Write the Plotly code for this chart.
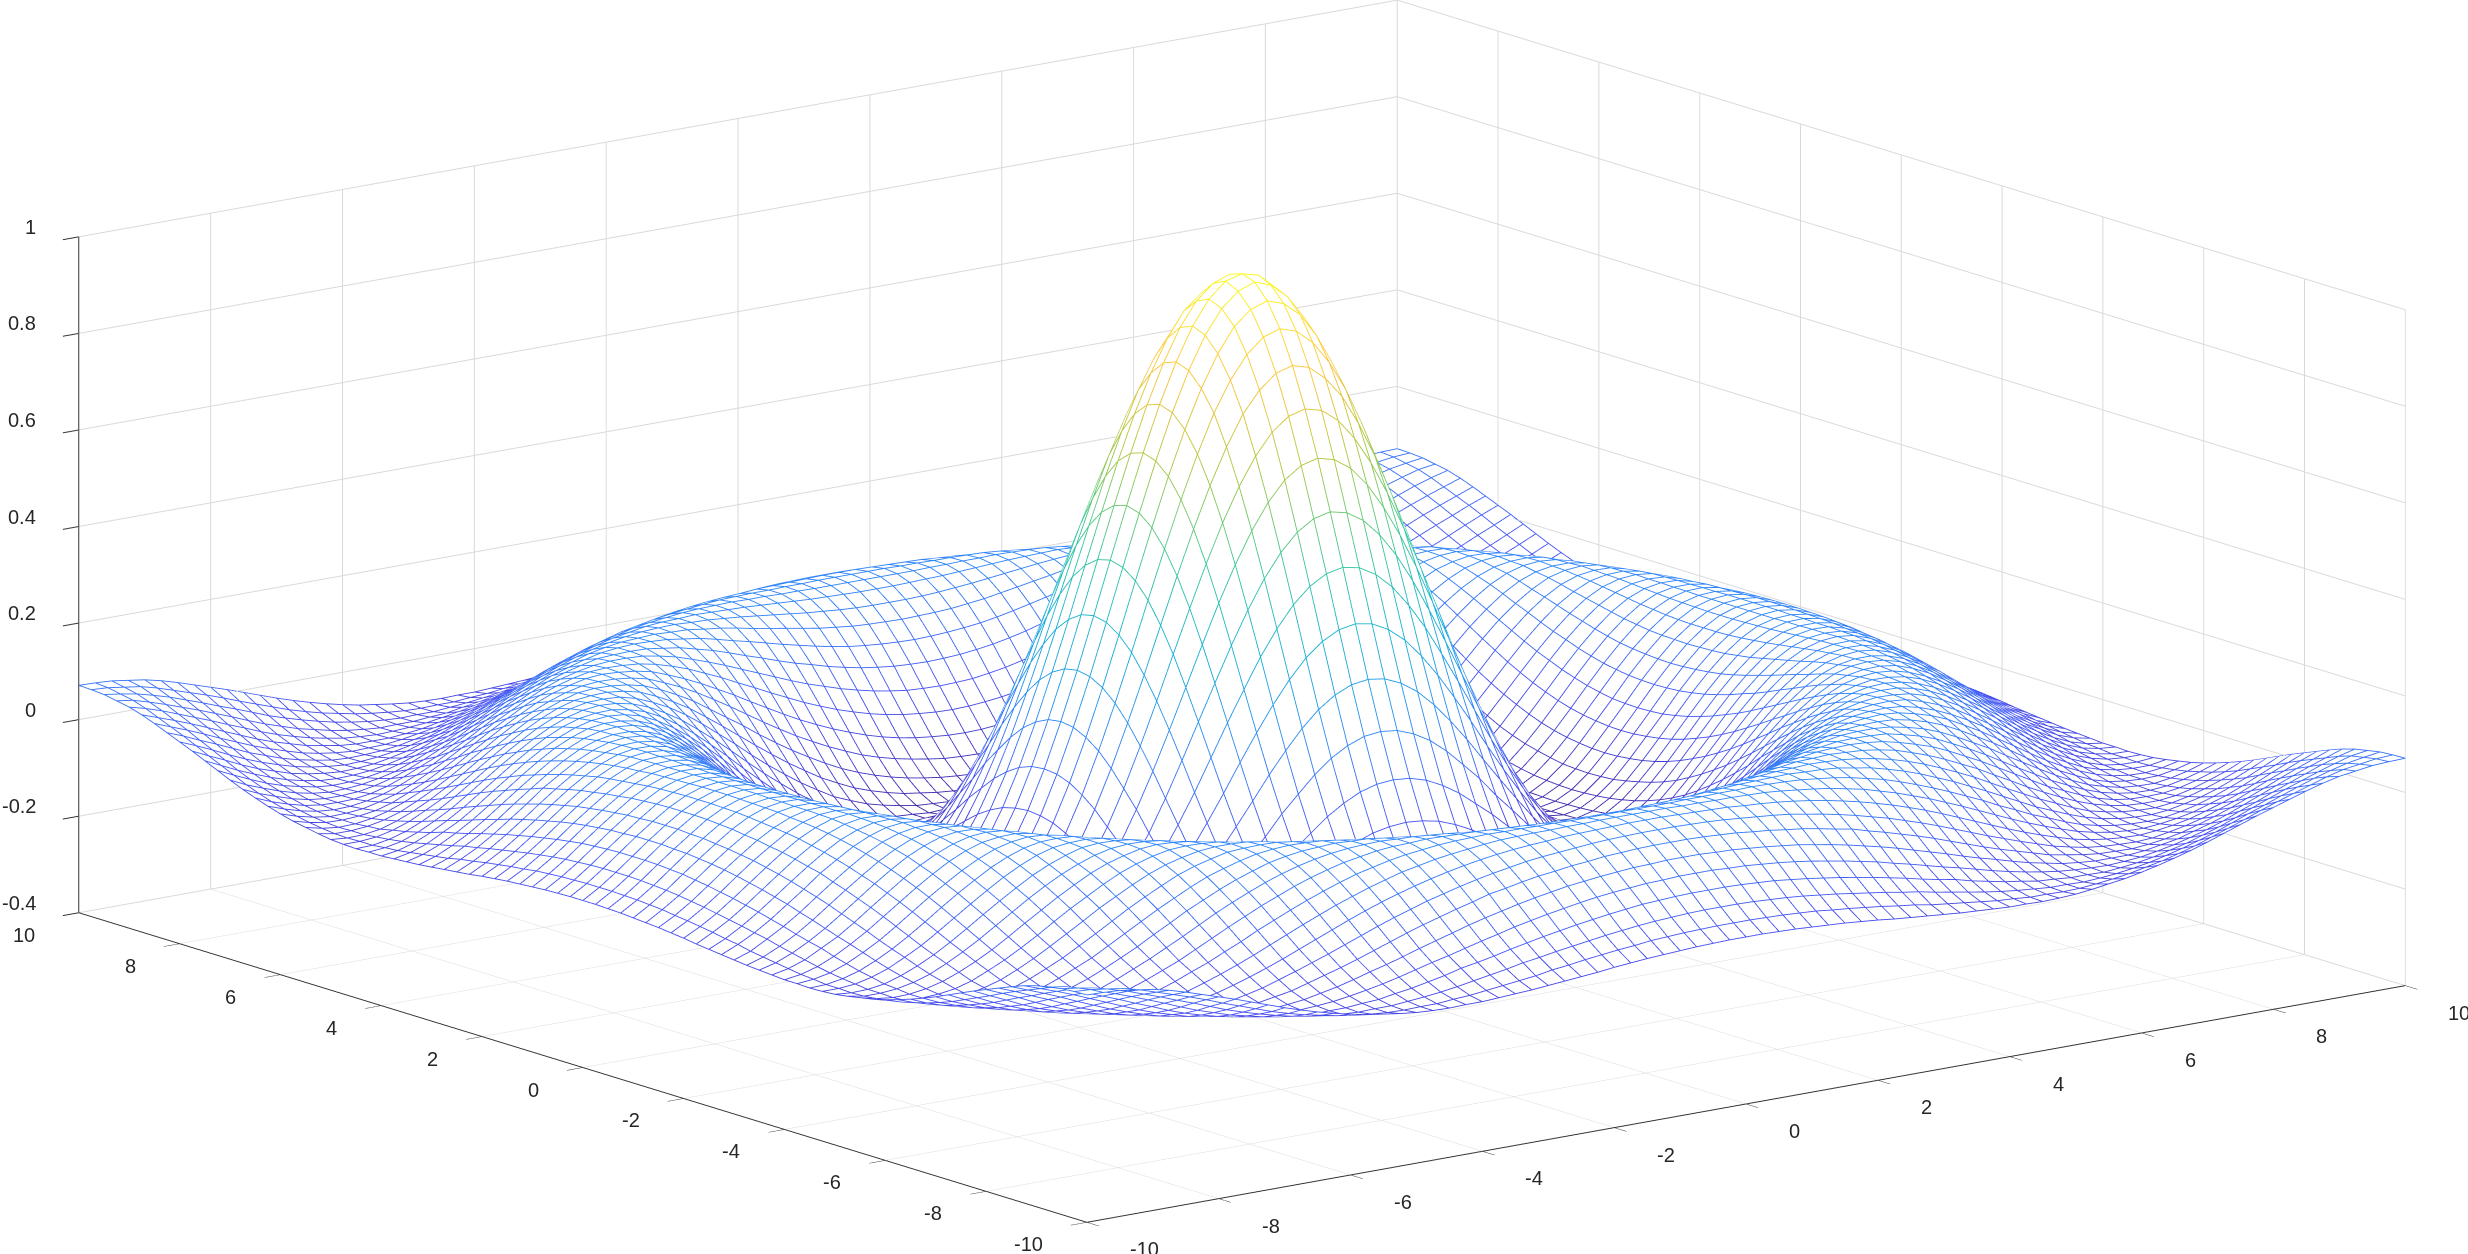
import numpy as np
import plotly.graph_objects as go

# heights on a 0.25 grid; only one eighth is listed,
# row i holds the points j <= i and the rest is mirrored
z_rows = [
    [0.999],
    [0.990, 0.977],
    [0.959, 0.947, 0.918],
    [0.909, 0.898, 0.868, 0.821],
    [0.841, 0.831, 0.802, 0.759, 0.697],
    [0.759, 0.750, 0.723, 0.680, 0.623, 0.554],
    [0.665, 0.656, 0.632, 0.592, 0.539, 0.475, 0.402],
    [0.562, 0.554, 0.532, 0.496, 0.448, 0.389, 0.322, 0.250],
    [0.455, 0.448, 0.428, 0.396, 0.352, 0.300, 0.239, 0.176, 0.110],
    [0.346, 0.340, 0.322, 0.294, 0.255, 0.209, 0.157, 0.102, 0.044, -0.011],
    [0.239, 0.234, 0.219, 0.195, 0.162, 0.122, 0.078, 0.030, -0.017, -0.063, -0.107],
    [0.139, 0.135, 0.122, 0.102, 0.074, 0.040, 0.005, -0.036, -0.073, -0.111, -0.145, -0.173],
    [0.047, 0.044, 0.034, 0.017, -0.005, -0.033, -0.061, -0.093, -0.122, -0.152, -0.175, -0.195, -0.210],
    [-0.033, -0.036, -0.043, -0.056, -0.073, -0.095, -0.117, -0.140, -0.162, -0.182, -0.198, -0.211, -0.215, -0.214],
    [-0.100, -0.102, -0.107, -0.117, -0.129, -0.145, -0.161, -0.176, -0.192, -0.203, -0.212, -0.216, -0.214, -0.208, -0.196],
    [-0.152, -0.153, -0.157, -0.163, -0.171, -0.182, -0.192, -0.201, -0.211, -0.214, -0.217, -0.213, -0.206, -0.193, -0.177, -0.156],
    [-0.189, -0.190, -0.192, -0.195, -0.200, -0.206, -0.212, -0.214, -0.216, -0.214, -0.211, -0.203, -0.192, -0.175, -0.155, -0.130, -0.103],
    [-0.211, -0.211, -0.212, -0.213, -0.214, -0.215, -0.217, -0.214, -0.212, -0.206, -0.197, -0.185, -0.169, -0.150, -0.127, -0.101, -0.074, -0.045],
    [-0.217, -0.217, -0.216, -0.215, -0.214, -0.212, -0.210, -0.204, -0.197, -0.188, -0.175, -0.161, -0.141, -0.120, -0.096, -0.071, -0.044, -0.015, 0.012],
    [-0.210, -0.209, -0.208, -0.206, -0.203, -0.198, -0.193, -0.185, -0.175, -0.163, -0.147, -0.130, -0.109, -0.087, -0.063, -0.038, -0.012, 0.014, 0.039, 0.063],
    [-0.192, -0.191, -0.189, -0.186, -0.181, -0.175, -0.167, -0.157, -0.145, -0.131, -0.114, -0.095, -0.075, -0.053, -0.030, -0.005, 0.018, 0.041, 0.064, 0.083, 0.100],
    [-0.164, -0.163, -0.161, -0.156, -0.150, -0.143, -0.134, -0.123, -0.109, -0.094, -0.077, -0.059, -0.039, -0.018, 0.004, 0.026, 0.047, 0.067, 0.085, 0.100, 0.114, 0.122],
    [-0.128, -0.127, -0.124, -0.120, -0.114, -0.106, -0.096, -0.084, -0.071, -0.056, -0.040, -0.022, -0.003, 0.016, 0.036, 0.054, 0.072, 0.088, 0.102, 0.115, 0.122, 0.126, 0.128],
    [-0.088, -0.087, -0.084, -0.080, -0.074, -0.066, -0.056, -0.045, -0.032, -0.018, -0.002, 0.014, 0.031, 0.047, 0.064, 0.079, 0.094, 0.106, 0.116, 0.123, 0.126, 0.127, 0.125, 0.118],
    [-0.047, -0.046, -0.044, -0.039, -0.033, -0.025, -0.016, -0.005, 0.006, 0.019, 0.033, 0.047, 0.061, 0.075, 0.088, 0.100, 0.111, 0.119, 0.125, 0.127, 0.127, 0.124, 0.117, 0.108, 0.095],
    [-0.005, -0.004, -0.002, 0.002, 0.007, 0.014, 0.022, 0.032, 0.041, 0.052, 0.064, 0.075, 0.087, 0.098, 0.107, 0.116, 0.121, 0.126, 0.127, 0.126, 0.124, 0.116, 0.107, 0.095, 0.079, 0.062],
    [0.033, 0.034, 0.036, 0.039, 0.043, 0.049, 0.056, 0.064, 0.072, 0.081, 0.090, 0.098, 0.107, 0.115, 0.120, 0.125, 0.127, 0.128, 0.126, 0.122, 0.114, 0.104, 0.093, 0.078, 0.061, 0.044, 0.025],
    [0.067, 0.068, 0.069, 0.071, 0.075, 0.079, 0.085, 0.091, 0.097, 0.103, 0.110, 0.116, 0.120, 0.125, 0.126, 0.128, 0.126, 0.124, 0.119, 0.112, 0.101, 0.089, 0.075, 0.059, 0.043, 0.024, 0.006, -0.013],
    [0.094, 0.094, 0.095, 0.097, 0.100, 0.103, 0.107, 0.111, 0.115, 0.119, 0.122, 0.125, 0.126, 0.128, 0.127, 0.125, 0.121, 0.115, 0.107, 0.097, 0.085, 0.071, 0.056, 0.040, 0.022, 0.004, -0.013, -0.030, -0.045],
    [0.114, 0.114, 0.115, 0.116, 0.117, 0.119, 0.121, 0.123, 0.125, 0.126, 0.127, 0.128, 0.126, 0.125, 0.122, 0.116, 0.110, 0.101, 0.091, 0.079, 0.065, 0.051, 0.035, 0.019, 0.002, -0.015, -0.032, -0.046, -0.060, -0.072],
    [0.125, 0.125, 0.125, 0.125, 0.126, 0.126, 0.127, 0.127, 0.128, 0.127, 0.126, 0.124, 0.120, 0.116, 0.110, 0.102, 0.094, 0.083, 0.071, 0.058, 0.044, 0.029, 0.014, -0.003, -0.018, -0.034, -0.047, -0.061, -0.073, -0.081, -0.087],
    [0.128, 0.128, 0.128, 0.127, 0.127, 0.126, 0.126, 0.125, 0.124, 0.121, 0.117, 0.113, 0.108, 0.101, 0.094, 0.084, 0.074, 0.062, 0.050, 0.036, 0.022, 0.007, -0.008, -0.023, -0.037, -0.050, -0.062, -0.073, -0.081, -0.087, -0.090, -0.091],
    [0.124, 0.124, 0.123, 0.122, 0.121, 0.120, 0.117, 0.115, 0.112, 0.108, 0.103, 0.097, 0.090, 0.082, 0.073, 0.063, 0.052, 0.040, 0.027, 0.013, -0.001, -0.015, -0.029, -0.042, -0.054, -0.065, -0.075, -0.082, -0.087, -0.090, -0.091, -0.088, -0.083],
    [0.112, 0.112, 0.111, 0.110, 0.108, 0.105, 0.102, 0.099, 0.095, 0.089, 0.083, 0.076, 0.068, 0.059, 0.050, 0.039, 0.028, 0.016, 0.003, -0.010, -0.023, -0.035, -0.047, -0.058, -0.069, -0.077, -0.084, -0.088, -0.090, -0.091, -0.089, -0.083, -0.076, -0.067],
    [0.094, 0.094, 0.093, 0.091, 0.089, 0.085, 0.082, 0.077, 0.073, 0.067, 0.060, 0.054, 0.044, 0.035, 0.025, 0.015, 0.004, -0.008, -0.020, -0.032, -0.043, -0.053, -0.063, -0.073, -0.079, -0.085, -0.089, -0.090, -0.091, -0.088, -0.083, -0.076, -0.066, -0.055, -0.043],
    [0.071, 0.071, 0.069, 0.068, 0.065, 0.062, 0.058, 0.054, 0.048, 0.042, 0.035, 0.027, 0.019, 0.010, 0.000, -0.010, -0.020, -0.031, -0.041, -0.050, -0.060, -0.069, -0.076, -0.083, -0.087, -0.090, -0.090, -0.090, -0.087, -0.081, -0.075, -0.065, -0.055, -0.043, -0.029, -0.015],
    [0.046, 0.046, 0.044, 0.043, 0.040, 0.037, 0.033, 0.028, 0.022, 0.016, 0.009, 0.002, -0.007, -0.015, -0.024, -0.033, -0.041, -0.050, -0.059, -0.067, -0.074, -0.080, -0.085, -0.088, -0.090, -0.091, -0.089, -0.086, -0.080, -0.073, -0.064, -0.054, -0.042, -0.028, -0.015, -0.001, 0.012],
    [0.019, 0.019, 0.018, 0.016, 0.014, 0.010, 0.006, 0.001, -0.004, -0.010, -0.016, -0.023, -0.030, -0.038, -0.045, -0.051, -0.060, -0.067, -0.074, -0.079, -0.085, -0.087, -0.090, -0.090, -0.091, -0.088, -0.084, -0.078, -0.070, -0.062, -0.051, -0.040, -0.027, -0.013, 0.000, 0.013, 0.025, 0.037],
    [-0.008, -0.008, -0.009, -0.011, -0.013, -0.016, -0.020, -0.024, -0.029, -0.034, -0.039, -0.045, -0.050, -0.057, -0.063, -0.069, -0.075, -0.080, -0.084, -0.087, -0.090, -0.090, -0.091, -0.089, -0.086, -0.081, -0.075, -0.067, -0.058, -0.048, -0.037, -0.024, -0.011, 0.001, 0.014, 0.026, 0.038, 0.048, 0.057],
    [-0.033, -0.033, -0.034, -0.035, -0.037, -0.039, -0.043, -0.046, -0.050, -0.054, -0.059, -0.063, -0.069, -0.073, -0.077, -0.081, -0.085, -0.087, -0.090, -0.090, -0.091, -0.090, -0.087, -0.083, -0.078, -0.071, -0.064, -0.055, -0.045, -0.033, -0.021, -0.009, 0.004, 0.016, 0.027, 0.038, 0.049, 0.058, 0.063, 0.068],
    [-0.054, -0.054, -0.055, -0.056, -0.058, -0.060, -0.062, -0.065, -0.068, -0.072, -0.075, -0.078, -0.081, -0.084, -0.086, -0.088, -0.090, -0.090, -0.091, -0.090, -0.088, -0.084, -0.079, -0.074, -0.067, -0.059, -0.050, -0.040, -0.029, -0.017, -0.005, 0.007, 0.018, 0.029, 0.040, 0.050, 0.058, 0.063, 0.068, 0.070, 0.071],
]
grid_step = 0.25
tick_xy = [-10, -8, -6, -4, -2, 0, 2, 4, 6, 8, 10]
tick_z = [-0.4, -0.2, 0, 0.2, 0.4, 0.6, 0.8, 1]
tick_z_text = ["-0.4", "-0.2", "0", "0.2", "0.4", "0.6", "0.8", "1"]
parula = ["#3e26a8", "#4752f4", "#2d87f7", "#12b1d6", "#37c897", "#abc739", "#fec338", "#f9fb15"]


n = len(z_rows)
quad = np.array([[z_rows[max(i, j)][min(i, j)] for j in range(n)] for i in range(n)])
z = np.block([[quad[::-1, ::-1][:-1, :-1], quad[::-1, :][:-1, :]],
              [quad[:, ::-1][:, :-1], quad]])
grid = np.arange(z.shape[0]) * grid_step - 10

# one long line with gaps, first along x then along y
xs, ys, zs, cs = [], [], [], []
for k in range(len(grid)):
    xs += list(grid) + [None]
    ys += [grid[k]] * len(grid) + [None]
    zs += list(z[k, :]) + [None]
    cs += list(z[k, :]) + [0]
    xs += [grid[k]] * len(grid) + [None]
    ys += list(grid) + [None]
    zs += list(z[:, k]) + [None]
    cs += list(z[:, k]) + [0]

scale = [[i / 7, c] for i, c in enumerate(parula)]

fig = go.Figure()
# white sheet pushed away from the camera so it hides what is behind the mesh
# but never covers the lines, also where the underside is seen
fig.add_trace(go.Surface(x=np.minimum(grid + 0.0335, 10), y=np.minimum(grid + 0.0438, 10), z=z - 0.0022,
                         colorscale=[[0, "white"], [1, "white"]],
                         showscale=False, hoverinfo="skip",
                         lighting=dict(ambient=1, diffuse=0, specular=0, fresnel=0)))
fig.add_trace(go.Scatter3d(x=xs, y=ys, z=zs, mode="lines", hoverinfo="skip",
                           line=dict(width=1.8, color=cs, colorscale=scale, cmin=-0.217, cmax=1)))


def axis(vals, rng):
    return dict(range=rng, tickvals=vals, title=dict(text=""), showticklabels=False,
                showbackground=False, showspikes=False, zeroline=False,
                gridcolor="#d9d9d9", gridwidth=2, showline=True, linecolor="#333333", linewidth=2,
                ticks="outside", ticklen=20, tickcolor="#333333", tickwidth=2)


# gl tick labels sit too close to the ticks, so they are placed as scene annotations
def label(x, y, z_val, text, anchor, dx, dy):
    return dict(x=x, y=y, z=z_val, text=text, showarrow=False, xanchor=anchor, yanchor="middle",
                xshift=dx, yshift=dy, font=dict(family="Liberation Sans", size=20, color="#262626"))


labels = [label(v, -10, -0.4, str(v), "left", 41, -27) for v in tick_xy]
labels += [label(-10, v, -0.4, str(v), "right", -42, -22) for v in tick_xy]
labels += [label(-10, 10, v, t, "right", -41, 10) for v, t in zip(tick_z, tick_z_text)]

# center moved to make up for the page margin that is removed below
cx, cy, cz = -0.0084, 0.0102, -0.0266

fig.update_layout(
    width=2468, height=1254, margin=dict(l=0, r=0, t=0, b=0),
    paper_bgcolor="white", showlegend=False,
    scene=dict(
        domain=dict(x=[0, 1], y=[0, 1]),
        xaxis=axis(tick_xy, [-10, 10]),
        yaxis=axis(tick_xy, [-10, 10]),
        zaxis=axis(tick_z, [-0.4, 1]),
        annotations=labels,
        aspectmode="manual", aspectratio=dict(x=2.647, y=2.647, z=1.109),
        camera=dict(projection=dict(type="orthographic"),
                    up=dict(x=0, y=0, z=1), center=dict(x=cx, y=cy, z=cz),
                    eye=dict(x=-0.5904 * 6 + cx, y=-0.7722 * 6 + cy, z=0.2348 * 6 + cz)),
    ),
)
fig.write_html("out.html", config=dict(displayModeBar=False), post_script="document.body.style.margin='0';")
